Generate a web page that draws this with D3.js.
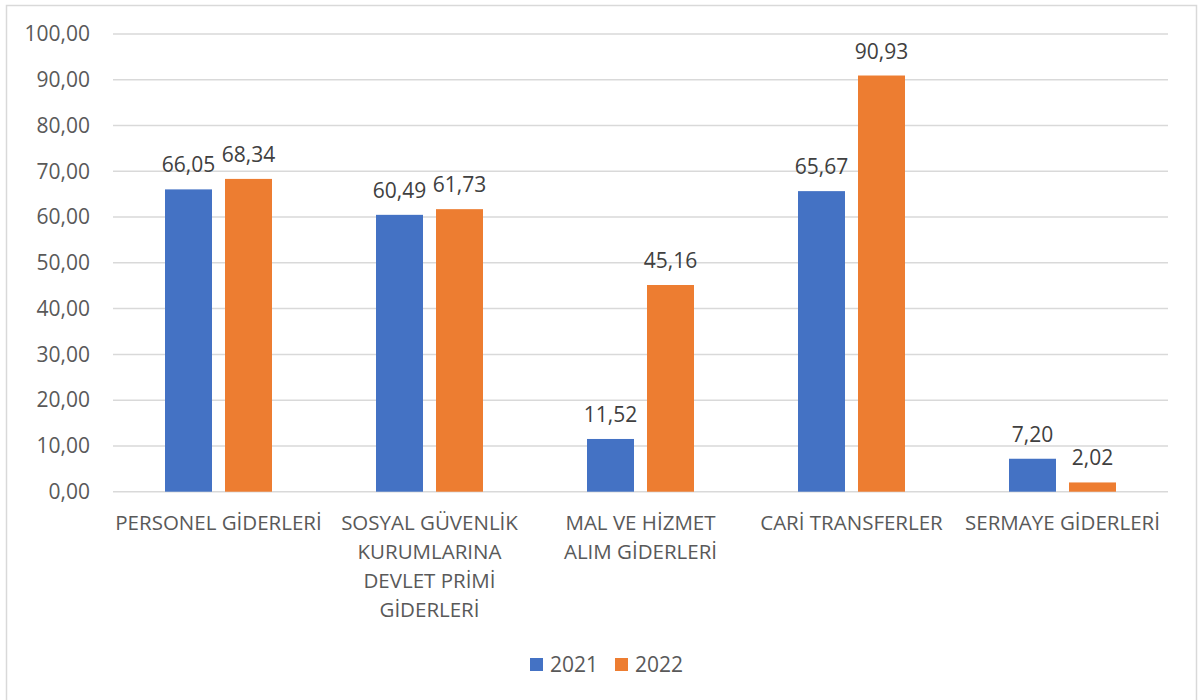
<!DOCTYPE html>
<html><head><meta charset="utf-8">
<script src="https://cdn.jsdelivr.net/npm/d3@7"></script>
<style>body{margin:0;background:#fff;} text{font-family:"Open Sans","Liberation Sans",sans-serif;}</style>
</head><body>
<svg id="c" width="1200" height="700"></svg>
<script>
const categories = [["PERSONEL GİDERLERİ"],["SOSYAL GÜVENLİK","KURUMLARINA","DEVLET PRİMİ","GİDERLERİ"],["MAL VE HİZMET","ALIM GİDERLERİ"],["CARİ TRANSFERLER"],["SERMAYE GİDERLERİ"]];
const series = ["2021","2022"];
const values2021 = [66.05, 60.49, 11.52, 65.67, 7.20];
const values2022 = [68.34, 61.73, 45.16, 90.93, 2.02];
const yTicks = [0,10,20,30,40,50,60,70,80,90,100];
const colors = ["#4472C4","#ED7D31"];

const svg = d3.select("#c");
svg.append("rect").attr("x",6.5).attr("y",5.5).attr("width",1190).attr("height",700).attr("fill","#fff").attr("stroke","#d9d9d9").attr("stroke-width",1.5);

const pLeft=113, pRight=1168, pTop=34, pBottom=491.7;
const y = d3.scaleLinear().domain([0,100]).range([pBottom, pTop]);
const x0 = d3.scaleBand().domain(d3.range(categories.length)).range([pLeft,pRight]).padding(0);
const x1 = d3.scaleBand().domain(series).range([52,159]).paddingInner(13/60).paddingOuter(0);
const fmt = v => v.toFixed(2).replace(".",",");

const g = svg.append("g");
g.selectAll("line.grid").data(yTicks).join("line")
  .attr("x1",pLeft).attr("x2",pRight).attr("y1",d=>y(d)).attr("y2",d=>y(d))
  .attr("stroke","#d9d9d9").attr("stroke-width",1.5);

const yAxis = d3.axisLeft(y).tickValues(yTicks).tickFormat(fmt).tickSize(0).tickPadding(23);
const ya = svg.append("g").attr("transform",`translate(${pLeft},0)`).call(yAxis);
ya.select(".domain").remove();
ya.selectAll("text").attr("font-size",21).attr("fill","#595959").attr("font-family","'Open Sans',sans-serif");

const data = categories.map((c,i)=>({i, vals:[{s:"2021",v:values2021[i]},{s:"2022",v:values2022[i]}]}));
const grp = svg.selectAll("g.cat").data(data).join("g").attr("transform",d=>`translate(${x0(d.i)},0)`);
grp.selectAll("rect").data(d=>d.vals).join("rect")
  .attr("x",d=>x1(d.s)).attr("width",x1.bandwidth())
  .attr("y",d=>y(d.v)).attr("height",d=>y(0)-y(d.v))
  .attr("fill",(d,j)=>colors[j]);
grp.selectAll("text.lbl").data(d=>d.vals).join("text")
  .attr("x",d=>x1(d.s)+x1.bandwidth()/2).attr("y",d=>y(d.v)-17)
  .attr("text-anchor","middle").attr("font-size",21).attr("fill","#404040")
  .text(d=>fmt(d.v));

const xl = svg.selectAll("text.cat").data(categories).join("text")
  .attr("text-anchor","middle").attr("font-size",20.5).attr("fill","#595959")
  .attr("transform",(d,i)=>`translate(${x0(i)+x0.bandwidth()/2},0)`);
xl.selectAll("tspan").data(d=>d).join("tspan").attr("x",0).attr("y",(d,k)=>530+k*29).text(d=>d);

const leg = svg.append("g");
const legX = [530, 615];
series.forEach((s,j)=>{
  leg.append("rect").attr("x",legX[j]).attr("y",658).attr("width",13).attr("height",13).attr("fill",colors[j]);
  leg.append("text").attr("x",legX[j]+20).attr("y",672).attr("font-size",21).attr("fill","#595959").text(s);
});
</script>
</body></html>
